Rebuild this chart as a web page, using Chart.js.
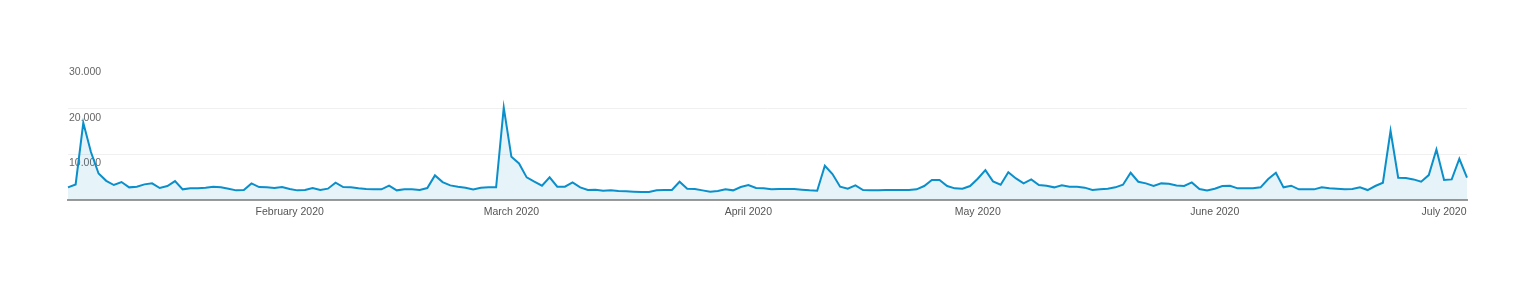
<!DOCTYPE html>
<html>
<head>
<meta charset="utf-8">
<script src="https://cdn.jsdelivr.net/npm/chart.js@4"></script>
<style>
  html, body { margin: 0; padding: 0; background: #fff; }
  #wrap { width: 1537px; height: 284px; position: relative; }
</style>
</head>
<body>
<div id="wrap"><canvas id="sessionsChart"></canvas></div>
<script>
// daily values, one array per month (Jan 3 - Jul 4, 2020)
const jan = [2770, 3400, 16900, 10500, 5800, 4200, 3280, 3930, 2770, 2910, 3420, 3640, 2620, 3060, 4150, 2330, 2550, 2550, 2700, 2910, 2770, 2480, 2110, 2180, 3640, 2840, 2770, 2620, 2840];
const feb = [2400, 2110, 2180, 2620, 2180, 2480, 3790, 2840, 2770, 2550, 2400, 2330, 2330, 3130, 2110, 2330, 2330, 2180, 2620, 5390, 3930, 3200, 2910, 2700, 2330, 2700, 2770, 2770, 20240];
const mar = [9460, 8010, 4950, 4000, 3130, 4950, 2910, 2910, 3860, 2770, 2180, 2260, 2040, 2110, 1970, 1890, 1820, 1750, 1750, 2110, 2180, 2180, 4000, 2480, 2400, 2110, 1820, 1970, 2330, 2110, 2840];
const apr = [3280, 2620, 2550, 2330, 2400, 2400, 2400, 2260, 2110, 2040, 7500, 5680, 2910, 2480, 3200, 2180, 2110, 2110, 2180, 2180, 2180, 2180, 2330, 3060, 4370, 4370, 3060, 2550, 2480, 3060];
const may = [4660, 6550, 4080, 3350, 6100, 4730, 3640, 4510, 3280, 3130, 2770, 3200, 2910, 2910, 2700, 2180, 2330, 2480, 2770, 3350, 5970, 4000, 3640, 3060, 3640, 3570, 3200, 3060, 3860, 2400, 2110];
const jun = [2480, 3060, 3130, 2550, 2550, 2550, 2770, 4590, 5970, 2770, 3130, 2330, 2330, 2330, 2770, 2550, 2480, 2330, 2400, 2770, 2180, 3060, 3790, 15140, 4880, 4800, 4510, 4000, 5460, 11070];
const jul = [4370, 4510, 9030, 4880];

const monthNames = ['January', 'February', 'March', 'April', 'May', 'June', 'July'];
const monthData = [jan, feb, mar, apr, may, jun, jul];
const firstDay = [3, 1, 1, 1, 1, 1, 1];
const yTicks = [10000, 20000, 30000];

// categories: one per day
const labels = [];
const values = [];
monthData.forEach((arr, m) => {
    arr.forEach((v, k) => {
        labels.push({ month: m, day: firstDay[m] + k });
        values.push(v);
    });
});

function fmt(n) {
    return String(n).replace(/\B(?=(\d{3})+(?!\d))/g, '.');
}

const ctx = document.getElementById('sessionsChart').getContext('2d');
const sessionsChart = new Chart(ctx, {
    type: 'line',
    data: {
        labels: labels.map(l => monthNames[l.month] + ' ' + l.day + ', 2020'),
        datasets: [{
            label: 'Sessions',
            data: values,
            borderColor: '#0a8fcb',
            backgroundColor: 'rgba(5, 141, 199, 0.1)',
            borderWidth: 2,
            pointRadius: 0,
            tension: 0,
            fill: 'origin'
        }]
    },
    options: {
        responsive: true,
        maintainAspectRatio: false,
        animation: false,
        layout: {
            padding: { left: 68, right: 70, top: 63, bottom: 54 }
        },
        plugins: {
            legend: { display: false },
            tooltip: { enabled: false }
        },
        scales: {
            x: {
                offset: false,
                grid: { display: false, drawTicks: false },
                border: { display: true, color: '#9a9a9a', width: 2 },
                ticks: {
                    autoSkip: false,
                    maxRotation: 0,
                    minRotation: 0,
                    padding: 6,
                    color: '#555',
                    font: { family: 'Liberation Sans, Arial, sans-serif', size: 10.5 },
                    callback: function(value, index) {
                        const l = labels[index];
                        if (l.day === 1) return monthNames[l.month] + ' 2020';
                        return null;
                    }
                },
                afterFit: function(scale) { scale.height = 30; }
            },
            y: {
                min: 0,
                max: 30000,
                afterBuildTicks: function(scale) {
                    scale.ticks = [0].concat(yTicks).map(v => ({ value: v }));
                },
                border: { display: false },
                grid: {
                    drawTicks: false,
                    color: function(c) {
                        if (c.tick && (c.tick.value === 30000 || c.tick.value === 0)) return 'rgba(0,0,0,0)';
                        return '#f0f0f0';
                    }
                },
                ticks: {
                    mirror: true,
                    padding: 1,
                    labelOffset: 9,
                    color: '#666',
                    font: { family: 'Liberation Sans, Arial, sans-serif', size: 10.5 },
                    callback: function(value) {
                        return value === 0 ? '' : fmt(value);
                    }
                },
                afterFit: function(scale) { scale.width = 0; }
            }
        }
    }
});
</script>
</body>
</html>
